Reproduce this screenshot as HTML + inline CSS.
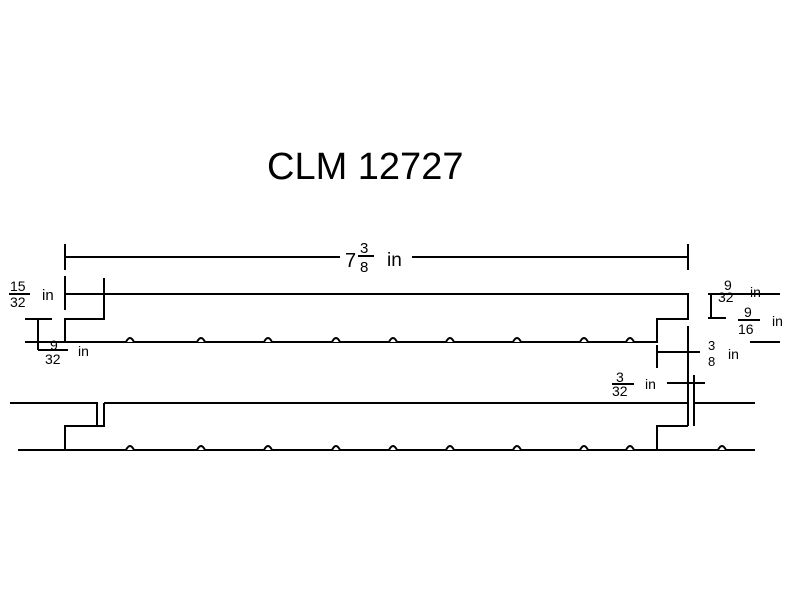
<!DOCTYPE html>
<html><head><style>
html,body{margin:0;padding:0;background:#fff;}
svg{display:block}
text{font-family:"Liberation Sans",sans-serif;fill:#000}
</style></head><body>
<svg width="800" height="600" viewBox="0 0 800 600" xmlns="http://www.w3.org/2000/svg">
<g stroke="#000" stroke-width="2" fill="none">
<!-- top dimension -->
<line x1="65" y1="257" x2="340" y2="257"/><line x1="412" y1="257" x2="688" y2="257"/>
<line x1="65" y1="244" x2="65" y2="270"/><line x1="688" y1="244" x2="688" y2="270"/>
<!-- board 1 -->
<path d="M104 294 H688 V319 H657 V342 H65 V319 H104 V278"/>
<line x1="65" y1="276" x2="65" y2="310"/>
<line x1="65" y1="294" x2="104" y2="294"/>
<!-- left small dims -->
<line x1="25" y1="319" x2="52" y2="319"/>
<line x1="38" y1="319" x2="38" y2="350"/>
<line x1="25" y1="342" x2="65" y2="342"/>
<line x1="38" y1="350" x2="68" y2="350"/>
<!-- right dims -->
<line x1="708" y1="294" x2="780" y2="294"/>
<line x1="711" y1="294" x2="711" y2="318"/>
<line x1="708" y1="318" x2="726" y2="318"/>
<line x1="750" y1="342" x2="780" y2="342"/>
<line x1="657" y1="345" x2="657" y2="368"/>
<line x1="657" y1="352" x2="700" y2="352"/>
<line x1="688" y1="326" x2="688" y2="426"/>
<line x1="667" y1="383" x2="705" y2="383"/>
<line x1="694" y1="375" x2="694" y2="426"/>
<!-- board 2 -->
<path d="M10 403 H97 V426 H65 V450 H18"/>
<path d="M104 403 H688"/>
<path d="M104 403 V426 H97"/>
<path d="M694 403 H755"/>
<path d="M688 426 H657 V450 H755"/>
<path d="M65 450 H657"/>
</g>
<g stroke="#000" stroke-width="2" fill="#fff">
<path d="M126 342 q4 -8 8 0 M197 342 q4 -8 8 0 M264 342 q4 -8 8 0 M332 342 q4 -8 8 0 M389 342 q4 -8 8 0 M446 342 q4 -8 8 0 M513 342 q4 -8 8 0 M580 342 q4 -8 8 0 M626 342 q4 -8 8 0"/>
<path d="M126 450 q4 -8 8 0 M197 450 q4 -8 8 0 M264 450 q4 -8 8 0 M332 450 q4 -8 8 0 M389 450 q4 -8 8 0 M446 450 q4 -8 8 0 M513 450 q4 -8 8 0 M580 450 q4 -8 8 0 M626 450 q4 -8 8 0 M718 450 q4 -8 8 0"/>
</g>
<text x="267" y="179" font-size="38">CLM 12727</text>
<text x="345" y="267" font-size="20">7</text>
<text x="360" y="253" font-size="15">3</text><line x1="358" y1="256" x2="374" y2="256" stroke="#000" stroke-width="2"/><text x="360" y="272" font-size="15">8</text>
<text x="387" y="266" font-size="19">in</text>
<text x="10" y="291" font-size="14">15</text><line x1="9" y1="294" x2="30" y2="294" stroke="#000" stroke-width="2"/><text x="10" y="307" font-size="14">32</text>
<text x="42" y="300" font-size="15">in</text>
<text x="50" y="350" font-size="14">9</text><text x="45" y="364" font-size="14">32</text>
<text x="78" y="356" font-size="14">in</text>
<text x="724" y="290" font-size="14">9</text><text x="718" y="302" font-size="14">32</text>
<text x="750" y="297" font-size="14">in</text>
<text x="744" y="317" font-size="14">9</text><line x1="738" y1="320" x2="760" y2="320" stroke="#000" stroke-width="2"/><text x="738" y="334" font-size="14">16</text>
<text x="772" y="326" font-size="14">in</text>
<text x="708" y="350" font-size="13">3</text><text x="708" y="366" font-size="13">8</text>
<text x="728" y="359" font-size="14">in</text>
<text x="616" y="382" font-size="14">3</text><line x1="612" y1="384" x2="634" y2="384" stroke="#000" stroke-width="2"/><text x="612" y="396" font-size="14">32</text>
<text x="645" y="389" font-size="14">in</text>
</svg>
</body></html>
